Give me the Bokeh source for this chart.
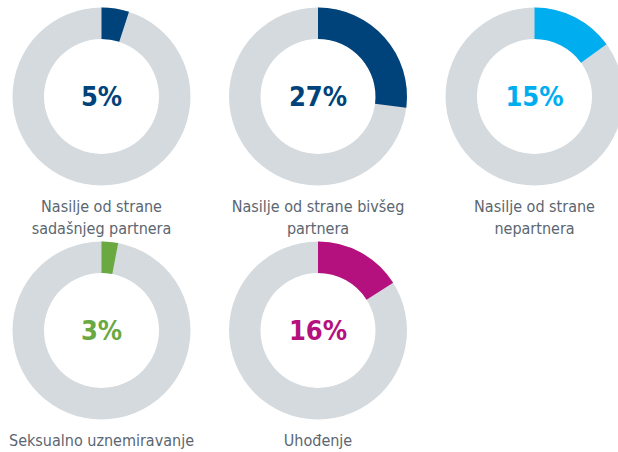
import math
from bokeh.plotting import figure
from bokeh.models import Range1d, ColumnDataSource
from bokeh.core.properties import value
from bokeh.embed import file_html
from bokeh.resources import INLINE

# ---- data ----
categories = [
    "Nasilje od strane\nsadašnjeg partnera",
    "Nasilje od strane bivšeg\npartnera",
    "Nasilje od strane\nnepartnera",
    "Seksualno uznemiravanje",
    "Uhođenje",
]
percent_values = [5, 27, 15, 3, 16]
colors = ["#00427a", "#00427a", "#00aeef", "#6aa842", "#b5117e"]

# ---- layout (pixels) ----
W, H = 618, 452
OFF = 0
col_x = [101, 317.5, 534]
row_y = [96, 330]
R_OUT, R_IN = 89, 57.5
TRACK = "#d5dade"
LABEL_COLOR = "#5b6670"
FONT = "DejaVu Sans Condensed"

p = figure(width=W, height=H, output_backend="svg", toolbar_location=None,
           x_range=Range1d(0, W), y_range=Range1d(0, H),
           min_border=0, outline_line_color=None)
p.axis.visible = False
p.grid.visible = False
p.background_fill_color = "white"
p.border_fill_color = "white"

cx, cy, starts, ends, cols, pct = [], [], [], [], [], []
lx, ly, lt = [], [], []
for i, (v, c, lab) in enumerate(zip(percent_values, colors, categories)):
    px = col_x[i % 3]
    py = row_y[i // 3]
    x = px - OFF
    y = H - (py - OFF)
    cx.append(x); cy.append(y)
    starts.append(math.pi / 2)
    ends.append(math.pi / 2 - 2 * math.pi * v / 100)
    cols.append(c)
    pct.append(f"{v}%")
    for k, line in enumerate(lab.split("\n")):
        lx.append(x)
        ly.append(y - 110 - 22 * k)
        lt.append(line)

src = ColumnDataSource(dict(x=cx, y=cy, s=starts, e=ends, c=cols, t=pct))
p.annulus(x="x", y="y", inner_radius=R_IN, outer_radius=R_OUT, source=src,
          fill_color=TRACK, line_color=None)
p.annular_wedge(x="x", y="y", inner_radius=R_IN, outer_radius=R_OUT,
                start_angle="e", end_angle="s", source=src,
                fill_color="c", line_color=None)
p.text(x="x", y="y", text="t", source=src, text_color="c",
       text_font=value(FONT), text_font_style="bold", text_font_size="27px",
       text_align="center", text_baseline="middle")

lsrc = ColumnDataSource(dict(x=lx, y=ly, t=lt))
p.text(x="x", y="y", text="t", source=lsrc, text_color=LABEL_COLOR,
       text_font=value(FONT), text_font_size="16px",
       text_align="center", text_baseline="middle")

open("out.html", "w").write(file_html(p, INLINE))
